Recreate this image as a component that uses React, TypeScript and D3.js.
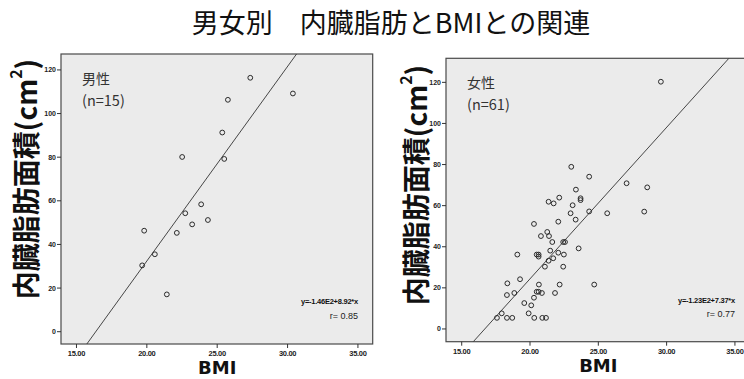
import React from "react";
import * as d3 from "d3";

// 男性 (n=15): BMI, 内臓脂肪面積
const maleBmi = [27.35, 30.38, 25.76, 25.36, 22.51, 25.5, 23.86, 22.73, 24.34, 23.22, 22.13, 19.81, 20.57, 19.67, 21.42];
const maleVfa = [116.4, 109.2, 106.3, 91.3, 80.1, 79.2, 58.4, 54.3, 51.2, 49.2, 45.3, 46.3, 35.5, 30.4, 17.1];

// 女性 (n=61)
const femaleBmi = [
  29.58, 23.02, 24.33, 27.07, 28.58, 23.36, 23.7, 23.7, 21.36, 21.73, 22.14, 23.12, 22.97, 24.33, 25.65,
  28.36, 23.34, 22.07, 20.29, 21.26, 20.8, 21.39, 21.63, 22.43, 22.56, 23.56, 19.07, 20.49, 20.63, 20.63,
  21.48, 22.07, 22.48, 21.7, 21.36, 21.09, 22.43, 18.34, 19.27, 20.65, 22.17, 24.7, 18.31, 18.85, 20.49,
  20.63, 20.87, 21.83, 20.29, 19.58, 20.09, 19.9, 17.93, 17.58, 18.31, 18.7, 20.31, 20.9, 21.17,
];
const femaleVfa = [
  120.3, 78.9, 74.1, 70.9, 68.9, 67.8, 63.6, 62.7, 61.9, 61.1, 63.9, 60.2, 56.3, 57.2, 56.3,
  57.1, 53.2, 52.2, 51.1, 47.2, 45.2, 45.2, 42.3, 42.3, 42.3, 39.2, 36.2, 36.2, 36.2, 35.2,
  38.1, 37.1, 36.2, 34.4, 33.2, 30.3, 30.3, 22.2, 24.2, 21.6, 21.6, 21.6, 16.5, 17.5, 18.1,
  18.1, 17.5, 17.5, 15.2, 12.6, 11.5, 7.6, 7.6, 5.4, 5.4, 5.4, 5.4, 5.4, 5.4,
];

const xTicks = [15, 20, 25, 30, 35];
const yTicks = [0, 20, 40, 60, 80, 100, 120];

const title = "男女別\u3000内臓脂肪とBMIとの関連";
const yLabel = "内臓脂肪面積(cm";

const panels = [
  {
    group: "男性",
    n: "(n=15)",
    bmi: maleBmi,
    vfa: maleVfa,
    a: -146,
    b: 8.92,
    eq: "y=-1.46E2+8.92*x",
    r: "r= 0.85",
    x: d3.scaleLinear().domain([13.9, 36.05]).range([61, 372.7]),
    y: d3.scaleLinear().domain([-5.64, 127.3]).range([344, 54]),
    labelX: 25,
    labelY: 179,
  },
  {
    group: "女性",
    n: "(n=61)",
    bmi: femaleBmi,
    vfa: femaleVfa,
    a: -123,
    b: 7.37,
    eq: "y=-1.23E2+7.37*x",
    r: "r= 0.77",
    x: d3.scaleLinear().domain([13.85, 36.03]).range([446, 749]),
    y: d3.scaleLinear().domain([-6.2, 131.7]).range([341.7, 58.3]),
    labelX: 415,
    labelY: 185,
  },
];

const tickFont = "Liberation Sans, Arial, sans-serif";
const jpFont = "'Noto Sans CJK JP', sans-serif";

function Panel({ p }: { p: (typeof panels)[number] }) {
  const [x0, x1] = p.x.range();
  const [y0, y1] = p.y.range();
  const [d0, d1] = p.y.domain();
  // regression line clipped to the frame
  const lx0 = (d0 - p.a) / p.b;
  const lx1 = (d1 - p.a) / p.b;
  const pts = p.bmi.map((v, i) => [v, p.vfa[i]]);
  const line = d3.line()([
    [p.x(lx0), p.y(d0)],
    [p.x(lx1), p.y(d1)],
  ]);
  const clipId = "clip-" + p.n.replace(/\W/g, "");
  return (
    <g>
      <defs>
        <clipPath id={clipId}>
          <rect x={x0} y={y1} width={x1 - x0} height={y0 - y1} />
        </clipPath>
      </defs>
      <rect x={x0} y={y1} width={x1 - x0} height={y0 - y1} fill="#ebebeb" stroke="#4a4a4a" strokeWidth={1.2} />
      {yTicks.map((t) => (
        <g key={t}>
          <line x1={x0 - 4} x2={x0} y1={p.y(t)} y2={p.y(t)} stroke="#333" />
          <text x={x0 - 5} y={p.y(t) + 2.5} textAnchor="end" fontSize={7} fontWeight={700} fontFamily={tickFont} fill="#222">
            {t}
          </text>
        </g>
      ))}
      {xTicks.map((t) => (
        <g key={t}>
          <line x1={p.x(t)} x2={p.x(t)} y1={y0} y2={y0 + 4} stroke="#333" />
          <text x={p.x(t)} y={y0 + 12} textAnchor="middle" fontSize={7.5} fontWeight={700} fontFamily={tickFont} fill="#222" letterSpacing={-0.3}>
            {t.toFixed(2)}
          </text>
        </g>
      ))}
      <g clipPath={`url(#${clipId})`}>
        <path d={line ?? ""} stroke="#333" strokeWidth={0.9} fill="none" />
        {pts.map(([bx, vy], i) => (
          <circle key={i} cx={p.x(bx)} cy={p.y(vy)} r={2.4} fill="none" stroke="#2a2a2a" strokeWidth={1} />
        ))}
      </g>
      <text x={x0 + 21} y={y1 + 30} fontSize={14} fontFamily={jpFont} fill="#333">
        {p.group}
      </text>
      <text x={x0 + 21} y={y1 + 51.5} fontSize={14.5} fontFamily={jpFont} fill="#333">
        {p.n}
      </text>
      <text x={p.x(35)} y={p.y(12.5)} textAnchor="end" fontSize={7.5} fontWeight={700} fontFamily={tickFont} fill="#111" letterSpacing={-0.25}>
        {p.eq}
      </text>
      <text x={p.x(35)} y={p.y(6)} textAnchor="end" fontSize={9} fontFamily={tickFont} fill="#222">
        {p.r}
      </text>
      <text
        transform={`translate(${p.labelX},${p.labelY}) rotate(-90)`}
        textAnchor="middle"
        dominantBaseline="central"
        fontSize={28}
        fontWeight={700}
        fontFamily={jpFont}
        fill="#111"
      >
        {yLabel}
        <tspan fontSize={16} dy={-10}>2</tspan>
        <tspan dy={10}>)</tspan>
      </text>
      <text x={(p.x(15) + p.x(35)) / 2} y={y0 + 30} textAnchor="middle" fontSize={18} fontWeight={700} fontFamily="DejaVu Sans, sans-serif" fill="#111">
        BMI
      </text>
    </g>
  );
}

export default function App() {
  return (
    <svg
      width={744}
      height={379}
      style={{ position: "absolute", left: 0, top: 0, background: "#fff" }}
    >
      <text x={391} y={33} textAnchor="middle" fontSize={27} fontFamily={jpFont} fill="#111">
        {title}
      </text>
      {panels.map((p) => (
        <Panel key={p.n} p={p} />
      ))}
    </svg>
  );
}
